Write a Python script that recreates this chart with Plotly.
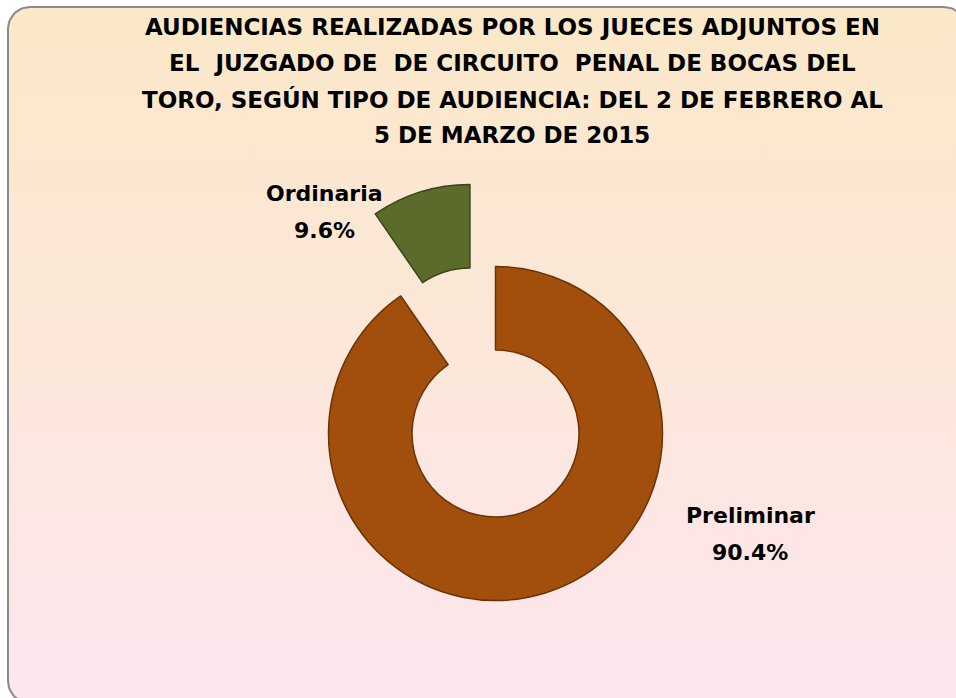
import numpy as np
import plotly.graph_objects as go

# data
labels = ["Preliminar", "Ordinaria"]
values = [90.4, 9.6]
colors = ["#A24F0D", "#5B6B2C"]
pulls = [0, 0.515]

title_lines = [
    "AUDIENCIAS REALIZADAS POR LOS JUECES ADJUNTOS EN",
    "EL\u00a0 JUZGADO DE\u00a0 DE CIRCUITO\u00a0 PENAL DE BOCAS DEL",
    "TORO, SEGÚN TIPO DE AUDIENCIA: DEL 2 DE FEBRERO AL",
    "5 DE MARZO DE 2015",
]

W, H = 956, 698
FONT = "DejaVu Sans"

# rounded frame path (pixel coords, y down)
x0, y0, x1, y1, rad = 8, 7, 966, 703, 22
fx, fy = [], []
for cx, cy, a_start in [(x1 - rad, y0 + rad, -90), (x1 - rad, y1 - rad, 0),
                        (x0 + rad, y1 - rad, 90), (x0 + rad, y0 + rad, 180)]:
    t = np.radians(np.linspace(a_start, a_start + 90, 12))
    fx += list(cx + rad * np.cos(t))
    fy += list(cy + rad * np.sin(t))
fx.append(fx[0])
fy.append(fy[0])

fig = go.Figure()

fig.add_trace(go.Scatter(
    x=fx, y=fy, mode="lines", fill="toself",
    line=dict(color="#8a8a8a", width=2),
    fillgradient=dict(type="vertical", start=y0, stop=y1,
                      colorscale=[[0, "#FBE8C8"], [0.5, "#FCE7DA"], [1, "#FEE6EF"]]),
    hoverinfo="skip", showlegend=False,
))

# pie box: center (495.5, 433.5), outer radius ~167
box = 167 * 2 * (1 + max(pulls))
cxp, cyp = 495.5, 433.5
fig.add_trace(go.Pie(
    labels=labels, values=values, hole=0.5, sort=False,
    direction="clockwise", rotation=0, pull=pulls,
    marker=dict(colors=colors, line=dict(color=["#6A3306", "#3A4619"], width=1.5)),
    textinfo="none", hoverinfo="label+percent", showlegend=False,
    domain=dict(x=[(cxp - box / 2) / W, (cxp + box / 2) / W],
                y=[1 - (cyp + box / 2) / H, 1 - (cyp - box / 2) / H]),
))

annotations = []
for i, line in enumerate(title_lines):
    annotations.append(dict(
        x=512, y=27 + i * 36, xref="x", yref="y", text="<b>%s</b>" % line,
        showarrow=False, font=dict(family=FONT, size=23, color="#000000"),
    ))

total = sum(values)
label_pos = {"Ordinaria": (324, 193), "Preliminar": (750, 515)}
for lab, v in zip(labels, values):
    lx, ly = label_pos[lab]
    annotations.append(dict(x=lx, y=ly, xref="x", yref="y", text="<b>%s</b>" % lab,
                            showarrow=False, font=dict(family=FONT, size=22, color="#000000")))
    annotations.append(dict(x=lx, y=ly + 37, xref="x", yref="y",
                            text="<b>%.1f%%</b>" % (100 * v / total),
                            showarrow=False, font=dict(family=FONT, size=22, color="#000000")))

fig.update_layout(
    width=W, height=H,
    margin=dict(l=0, r=0, t=0, b=0),
    paper_bgcolor="white", plot_bgcolor="rgba(0,0,0,0)",
    xaxis=dict(range=[0, W], visible=False, showgrid=False, zeroline=False, fixedrange=True),
    yaxis=dict(range=[H, 0], visible=False, showgrid=False, zeroline=False, fixedrange=True),
    annotations=annotations,
)

# drop the default 8px body margin so the figure fills the window
fig.write_html("out.html", config={"displayModeBar": False},
               post_script="document.body.style.margin='0';document.body.style.overflow='hidden';")
